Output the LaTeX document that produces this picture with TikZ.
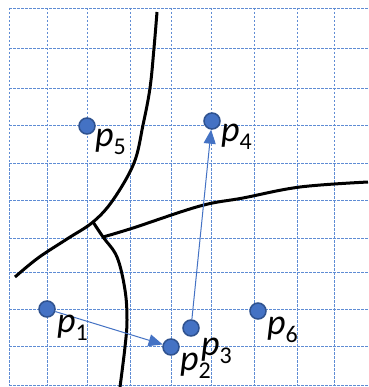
\documentclass[tikz,border=0pt]{standalone}
\usepackage{fontspec}
\setmainfont{Carlito}
\usetikzlibrary{arrows.meta}
\definecolor{gridc}{RGB}{95,140,212}
\definecolor{dotc}{RGB}{68,114,196}
\definecolor{dotedge}{RGB}{47,82,143}
\newcommand{\plab}[1]{{\fontsize{36}{36}\selectfont\itshape p}{\fontsize{24}{24}\selectfont\raisebox{-8pt}{#1}}}
\tikzset{
  gridline/.style={gridc, line width=0.9pt, dash pattern=on 2.5pt off 1.5pt},
  pt/.style={circle, fill=dotc, draw=dotedge, line width=1.5pt, minimum size=16pt, inner sep=0pt},
  lab/.style={anchor=base west, inner sep=0pt},
  curve/.style={black, line width=3pt},
  arr/.style={dotc, line width=1pt, -{Triangle[length=14pt,width=12pt]}}
}
\begin{document}
\begin{tikzpicture}[x=1pt,y=-1pt]
\useasboundingbox (0,0) rectangle (368,387);
\fill[white] (0,0) rectangle (368,387);
% grid
\foreach \x in {9,47,87,130,171,211,254,297,334}
  \draw[gridline] (\x,8) -- (\x,385);
\foreach \y in {8,48,88,125,163,200,238,272,309,346,385}
  \draw[gridline] (9,\y) -- (368,\y);
% curves
\draw[curve] plot[smooth, tension=0.6] coordinates {(157,12) (154,48) (150,88) (143,125) (134,163) (113,200) (93,222) (67,239) (38,258) (15,277)};
\coordinate (j1) at (93,222);
\coordinate (j2) at (103,237);
\draw[curve] plot[smooth, tension=0.6] coordinates {(93,222) (103,237) (117,257) (125,290) (127,320) (125,347) (120,387)};
\draw[curve] plot[smooth, tension=0.6] coordinates {(103,237) (133,228) (200,206) (243,198) (300,187) (368,182)};
% points
\node[pt] (p5) at (87,126) {};
\node[pt] (p4) at (212,121) {};
\node[pt] (p1) at (47,309) {};
\node[pt] (p2) at (171,347) {};
\node[pt] (p3) at (191,328) {};
\node[pt] (p6) at (258,311) {};
% arrows
\draw[arr] (p1) -- (p2);
\draw[arr] (p3) -- (p4);
% labels
\node[lab] (l5) at (95,147) {\plab{5}};
\node[lab] (l4) at (221,142) {\plab{4}};
\node[lab] (l1) at (57,332) {\plab{1}};
\node[lab] (l2) at (180,370) {\plab{2}};
\node[lab] (l3) at (201,355) {\plab{3}};
\node[lab] (l6) at (267,334) {\plab{6}};
\end{tikzpicture}
\end{document}
